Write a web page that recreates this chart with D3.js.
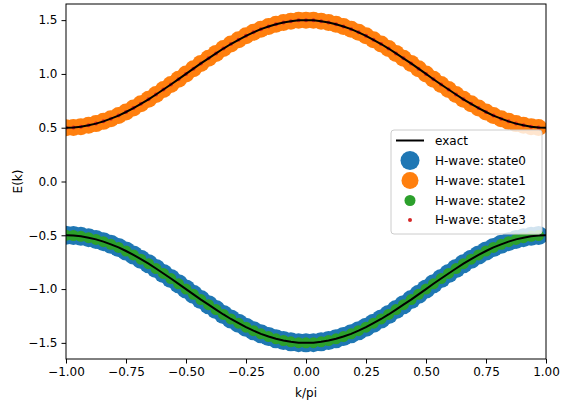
<!DOCTYPE html>
<html>
<head>
<meta charset="utf-8">
<script src="https://cdn.jsdelivr.net/npm/d3@7/dist/d3.min.js"></script>
<style>
  body { margin: 0; background: white; }
  text { font-family: "DejaVu Sans", sans-serif; }
</style>
</head>
<body>
<div id="chart"></div>
<script>
// k/pi grid (65 points from -1 to 1)
const kGrid = [-1.000, -0.969, -0.938, -0.906, -0.875, -0.844, -0.813, -0.781,
               -0.750, -0.719, -0.688, -0.656, -0.625, -0.594, -0.563, -0.531,
               -0.500, -0.469, -0.438, -0.406, -0.375, -0.344, -0.313, -0.281,
               -0.250, -0.219, -0.188, -0.156, -0.125, -0.094, -0.063, -0.031,
                0.000,  0.031,  0.063,  0.094,  0.125,  0.156,  0.188,  0.219,
                0.250,  0.281,  0.313,  0.344,  0.375,  0.406,  0.438,  0.469,
                0.500,  0.531,  0.563,  0.594,  0.625,  0.656,  0.688,  0.719,
                0.750,  0.781,  0.813,  0.844,  0.875,  0.906,  0.938,  0.969,
                1.000];

// upper band energies
const upperBand = [0.500, 0.502, 0.510, 0.522, 0.538, 0.559, 0.584, 0.613,
                   0.646, 0.683, 0.722, 0.764, 0.809, 0.855, 0.902, 0.951,
                   1.000, 1.049, 1.098, 1.145, 1.191, 1.236, 1.278, 1.317,
                   1.354, 1.387, 1.416, 1.441, 1.462, 1.478, 1.490, 1.498,
                   1.500, 1.498, 1.490, 1.478, 1.462, 1.441, 1.416, 1.387,
                   1.354, 1.317, 1.278, 1.236, 1.191, 1.145, 1.098, 1.049,
                   1.000, 0.951, 0.902, 0.855, 0.809, 0.764, 0.722, 0.683,
                   0.646, 0.613, 0.584, 0.559, 0.538, 0.522, 0.510, 0.502,
                   0.500];

// lower band energies
const lowerBand = [-0.500, -0.502, -0.510, -0.522, -0.538, -0.559, -0.584, -0.613,
                   -0.646, -0.683, -0.722, -0.764, -0.809, -0.855, -0.902, -0.951,
                   -1.000, -1.049, -1.098, -1.145, -1.191, -1.236, -1.278, -1.317,
                   -1.354, -1.387, -1.416, -1.441, -1.462, -1.478, -1.490, -1.498,
                   -1.500, -1.498, -1.490, -1.478, -1.462, -1.441, -1.416, -1.387,
                   -1.354, -1.317, -1.278, -1.236, -1.191, -1.145, -1.098, -1.049,
                   -1.000, -0.951, -0.902, -0.855, -0.809, -0.764, -0.722, -0.683,
                   -0.646, -0.613, -0.584, -0.559, -0.538, -0.522, -0.510, -0.502,
                   -0.500];

// H-wave states sampled on the first 64 grid points
const nStatePts = 64;
const stateNames = ['H-wave: state0', 'H-wave: state1', 'H-wave: state2', 'H-wave: state3'];
const stateBands = [lowerBand, upperBand, lowerBand, upperBand];
const stateColors = ['#1f77b4', '#ff7f0e', '#2ca02c', '#d62728'];
const stateRadius = [9.5, 8.5, 5.5, 2];

const xTicks = [-1, -0.75, -0.5, -0.25, 0, 0.25, 0.5, 0.75, 1];
const yTicks = [-1.5, -1.0, -0.5, 0.0, 0.5, 1.0, 1.5];

let dim = { width: 561, height: 407 };
let plot = { left: 66, right: 546, top: 4, bottom: 359 };

let svg = d3.select('#chart').append('svg')
    .attr('width', dim.width)
    .attr('height', dim.height);

let x = d3.scaleLinear().domain([-1, 1]).range([plot.left, plot.right]);
let y = d3.scaleLinear().domain([-1.65, 1.65]).range([plot.bottom, plot.top]);

svg.append('clipPath').attr('id', 'clip')
    .append('rect')
    .attr('x', plot.left).attr('y', plot.top)
    .attr('width', plot.right - plot.left)
    .attr('height', plot.bottom - plot.top);

let g = svg.append('g').attr('clip-path', 'url(#clip)');

// scatter markers
stateBands.forEach(function(band, s){
    let pts = kGrid.slice(0, nStatePts).map((k, i) => ({ k: k, e: band[i] }));
    g.append('g').selectAll('circle')
        .data(pts)
        .join('circle')
        .attr('cx', d => x(d.k))
        .attr('cy', d => y(d.e))
        .attr('r', stateRadius[s])
        .attr('fill', stateColors[s]);
});

// exact dispersion lines
let line = d3.line().x(d => x(d.k)).y(d => y(d.e));
[upperBand, lowerBand].forEach(function(band){
    g.append('path')
        .datum(kGrid.map((k, i) => ({ k: k, e: band[i] })))
        .attr('d', line)
        .attr('fill', 'none')
        .attr('stroke', 'black')
        .attr('stroke-width', 2);
});

// axes
let fmtX = d => d3.format('.2f')(d).replace('-', '\u2212');
let fmtY = d => d3.format('.1f')(d).replace('-', '\u2212');

let xAxis = svg.append('g')
    .attr('transform', `translate(0,${plot.bottom})`)
    .call(d3.axisBottom(x).tickValues(xTicks).tickFormat(fmtX).tickSizeOuter(0).tickSize(4.5).tickPadding(4));
let yAxis = svg.append('g')
    .attr('transform', `translate(${plot.left},0)`)
    .call(d3.axisLeft(y).tickValues(yTicks).tickFormat(fmtY).tickSizeOuter(0).tickSize(4.5).tickPadding(4));

[xAxis, yAxis].forEach(function(ax){
    ax.select('.domain').remove();
    ax.selectAll('.tick line').attr('stroke', 'black').attr('stroke-width', 1);
    ax.selectAll('.tick text')
        .attr('fill', 'black')
        .style('font-size', '12px')
        .style('font-family', '"DejaVu Sans", sans-serif');
});

// spines
svg.append('rect')
    .attr('x', plot.left).attr('y', plot.top)
    .attr('width', plot.right - plot.left)
    .attr('height', plot.bottom - plot.top)
    .attr('fill', 'none')
    .attr('stroke', 'black')
    .attr('stroke-width', 1);

// axis labels
svg.append('text')
    .attr('x', (plot.left + plot.right) / 2)
    .attr('y', 397)
    .attr('text-anchor', 'middle')
    .style('font-size', '12px')
    .text('k/pi');

svg.append('text')
    .attr('transform', `translate(22,${(plot.top + plot.bottom) / 2}) rotate(-90)`)
    .attr('text-anchor', 'middle')
    .style('font-size', '12px')
    .text('E(k)');

// legend
let leg = svg.append('g').attr('transform', 'translate(391,130)');
leg.append('rect')
    .attr('width', 151).attr('height', 104)
    .attr('rx', 3)
    .attr('fill', 'white').attr('fill-opacity', 0.8)
    .attr('stroke', '#cccccc').attr('stroke-width', 1);

let rowY = [10.5, 30.5, 50.5, 70.5, 90];
leg.append('line')
    .attr('x1', 5).attr('x2', 33)
    .attr('y1', rowY[0]).attr('y2', rowY[0])
    .attr('stroke', 'black').attr('stroke-width', 2);
leg.append('text')
    .attr('x', 44).attr('y', rowY[0]).attr('dy', '0.35em')
    .style('font-size', '12px')
    .text('exact');

stateNames.forEach(function(name, s){
    leg.append('circle')
        .attr('cx', 19).attr('cy', rowY[s + 1])
        .attr('r', stateRadius[s])
        .attr('fill', stateColors[s]);
    leg.append('text')
        .attr('x', 44).attr('y', rowY[s + 1]).attr('dy', '0.35em')
        .style('font-size', '12px')
        .text(name);
});
</script>
</body>
</html>
